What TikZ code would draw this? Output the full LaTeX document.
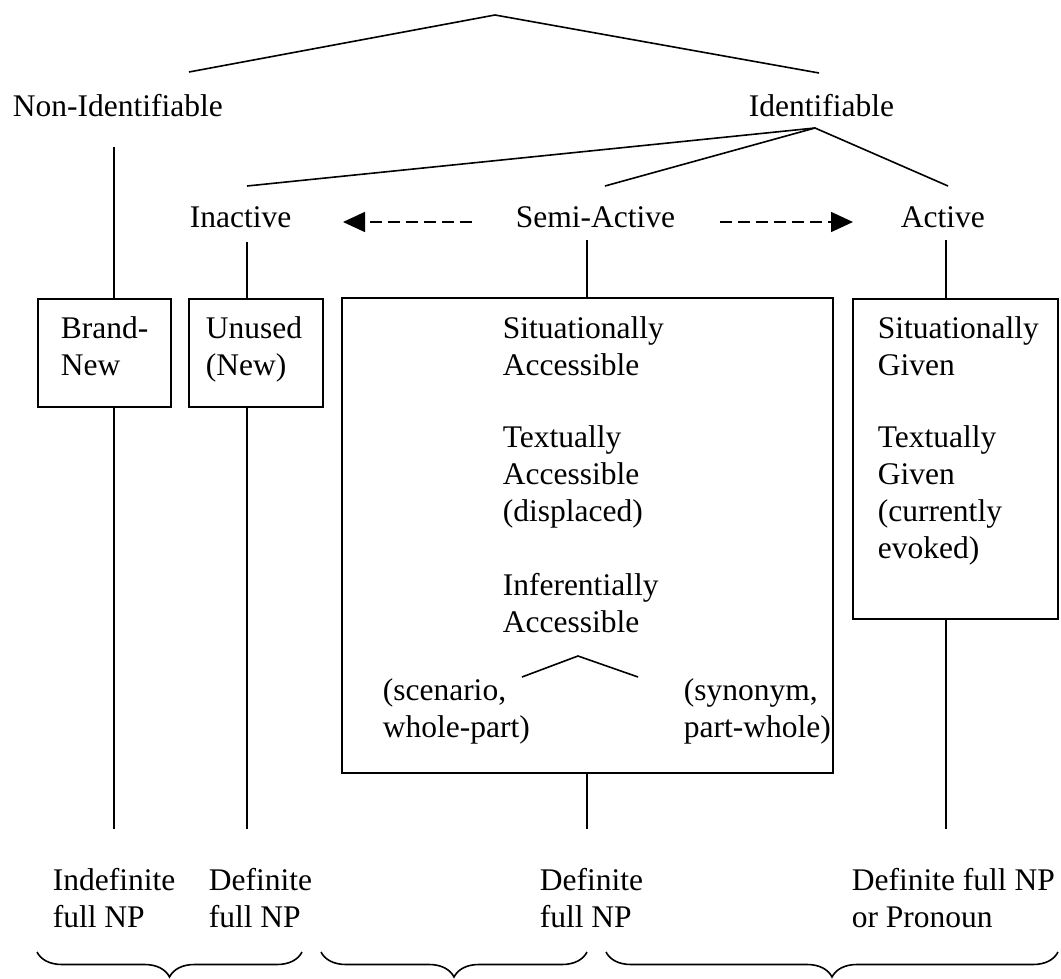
\documentclass[tikz,border=0pt]{standalone}
\usepackage{fontspec}
\setmainfont{Liberation Serif}
\usetikzlibrary{arrows.meta,decorations.pathreplacing}
\begin{document}
\begin{tikzpicture}[x=1pt,y=-1pt,line width=1.6pt,
		every node/.style={inner sep=0pt,font=\fontsize{31.5}{37}\selectfont},
		lbl/.style={anchor=base west,align=left},
		caja/.style={draw,line width=1.6pt},
		dasharr/.style={dash pattern=on 12pt off 6pt,-{Triangle[length=22pt,width=20pt]}}]
	\useasboundingbox (0,0) rectangle (1061,979);
	
	% Niveles superiores
	\node[lbl] (noid) at (12,117) {Non-Identifiable};
	\node[lbl] (ident) at (748,117) {Identifiable};
	\node[lbl] (inact) at (189,227) {Inactive};
	\node[lbl] (semi) at (515,227) {Semi-Active};
	\node[lbl] (activ) at (900,227) {Active};
	
	\coordinate (raiz) at (495,15);
	\coordinate (nid) at (189,72);
	\coordinate (idn) at (819,73);
	\coordinate (idb) at (815,128);
	\coordinate (ina) at (247,186);
	\coordinate (sem) at (605,186);
	\coordinate (act) at (948,186);
	\draw (nid) -- (raiz) -- (idn);
	\draw (ina) -- (idb) -- (act);
	\draw (idb) -- (sem);
	
	\coordinate (ls) at (472,222);
	\coordinate (le) at (343,222);
	\coordinate (rs) at (720,222);
	\coordinate (re) at (853,222);
	\draw[dasharr] (ls) -- (le);
	\draw[dasharr] (rs) -- (re);
	
	% Cajas
	\node[caja,minimum width=133pt,minimum height=108pt] (brand) at (104.5,353) {};
	\node[caja,minimum width=134pt,minimum height=108pt] (unused) at (256,353) {};
	\node[caja,minimum width=491pt,minimum height=475pt] (semibox) at (587.5,535.5) {};
	\node[caja,minimum width=205pt,minimum height=320pt] (actbox) at (955.5,459) {};
	
	% (el ancla base cae en la ultima linea)
	\node[lbl] (brandtx) at (60,375) {Brand-\\New};
	\node[lbl] (unusedtx) at (205,375) {Unused\\(New)};
	\node[lbl] (sitacc) at (502,375) {Situationally\\Accessible};
	\node[lbl] (textacc) at (502,521) {Textually\\Accessible\\(displaced)};
	\node[lbl] (infacc) at (502,632) {Inferentially\\Accessible};
	\node[lbl] (scen) at (382,737) {(scenario,\\whole-part)};
	\node[lbl] (synon) at (683,737) {(synonym,\\part-whole)};
	\node[lbl] (sitgiv) at (877,375) {Situationally\\Given};
	\node[lbl] (textgiv) at (877,558) {Textually\\Given\\(currently\\evoked)};
	
	\coordinate (cl) at (522,677);
	\coordinate (cpk) at (578,656);
	\coordinate (cr) at (638,677);
	\draw (cl) -- (cpk) -- (cr);
	
	% Lineas verticales
	\foreach \n/\x/\y in {brand/114/147, unused/247/242, semibox/587/240, actbox/946/240} {
		\draw (\x,\y) -- (\x,0 |- \n.north);
		\draw (\x,0 |- \n.south) -- (\x,829);
	}
	
	% Formas y llaves inferiores
	\node[lbl] (indef) at (52,927) {Indefinite\\full NP};
	\node[lbl] (def1) at (208,927) {Definite\\full NP};
	\node[lbl] (def2) at (539,927) {Definite\\full NP};
	\node[lbl] (def3) at (851,927) {Definite full NP\\or Pronoun};
	
	\foreach \a/\b in {37/302, 321/587, 606/1058} {
		\draw[decorate,decoration={brace,mirror,amplitude=25pt}] (\a,952) -- (\b,952);
	}
\end{tikzpicture}
\end{document}
